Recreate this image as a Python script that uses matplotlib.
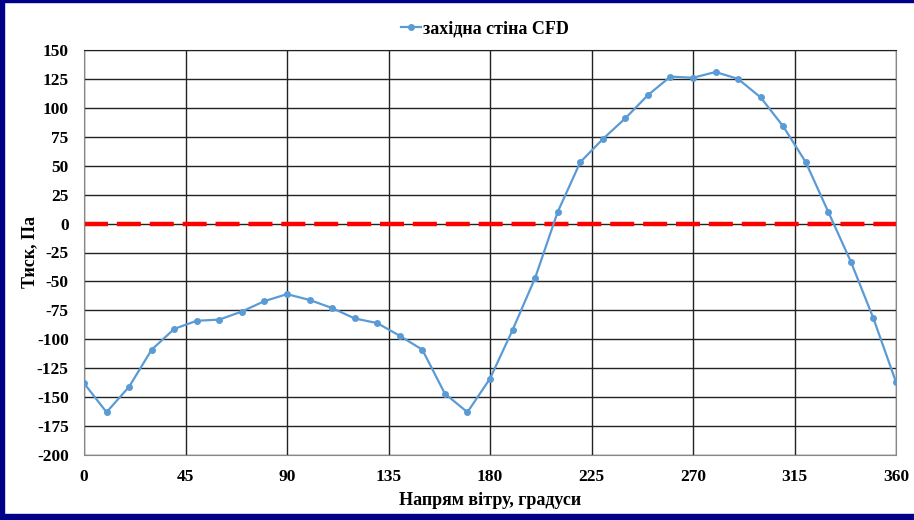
import matplotlib
matplotlib.use('Agg')
import matplotlib.pyplot as plt
from matplotlib.patches import Rectangle

# wind direction, degrees
angles = list(range(0, 361, 10))
# pressure on the west wall (CFD), Pa
pressure = [-138, -163, -141, -109, -91, -84, -83, -76, -67, -61,
            -66, -73, -82, -86, -97, -109, -147, -163, -134, -92,
            -47, 10, 53, 73, 91, 111, 127, 126, 131, 125,
            109, 84, 53, 10, -33, -82, -137]

x_ticks = [0, 45, 90, 135, 180, 225, 270, 315, 360]
y_ticks = list(range(-200, 151, 25))

plt.rcParams['font.family'] = ['Liberation Serif', 'DejaVu Serif']
plt.rcParams['axes.unicode_minus'] = False

fig = plt.figure(figsize=(9.14, 5.2), dpi=100)
ax = fig.add_axes([84 / 914, 65 / 520, 812 / 914, 405 / 520])

ax.plot(angles, pressure, color='#5B9BD5', lw=1.6, marker='o', ms=4,
        label='західна стіна CFD', zorder=3)
ax.axhline(0, color='#FF0000', lw=3.2, dashes=(5.4, 2.0), zorder=2)

ax.set_xlim(0, 360)
ax.set_ylim(-200, 150)
ax.set_xticks(x_ticks)
ax.set_yticks(y_ticks)
ax.tick_params(length=0, labelsize=12.5)
ax.tick_params(axis='x', pad=10)
ax.tick_params(axis='y', pad=11)
for lbl in ax.get_xticklabels() + ax.get_yticklabels():
    lbl.set_fontweight('bold')
ax.grid(True, color='#222222', lw=1)
ax.set_axisbelow(True)
for s in ax.spines.values():
    s.set_color('#888888')
ax.spines['top'].set_color('#222222')

ax.set_xlabel('Напрям вітру, градуси', fontsize=13, fontweight='bold', labelpad=5)
ax.set_ylabel('Тиск, Па', fontsize=13, fontweight='bold', labelpad=-1)

ax.legend(loc='lower center', bbox_to_anchor=(0.494, 1.0), frameon=False,
          prop={'size': 13, 'weight': 'bold'}, handlelength=1.1,
          handletextpad=0.15, borderaxespad=0.3)

# dark blue slide frame
navy = '#000088'
fig.patches.append(Rectangle((0, 0), 4 / 914, 1, transform=fig.transFigure,
                             color=navy, zorder=10))
fig.patches.append(Rectangle((0, 518 / 520), 1, 2 / 520, transform=fig.transFigure,
                             color=navy, zorder=10))
fig.patches.append(Rectangle((0, 0), 1, 6 / 520, transform=fig.transFigure,
                             color=navy, zorder=10))

fig.savefig('out.png', dpi=100)
